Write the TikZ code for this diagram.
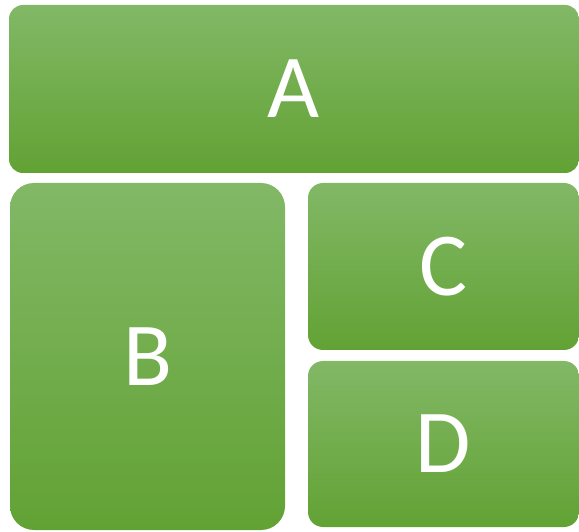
\documentclass[tikz,border=0pt]{standalone}
\usepackage{fontspec}
\setmainfont{Carlito}
\definecolor{gtop}{HTML}{82B866}
\definecolor{gmid}{HTML}{70AE45}
\definecolor{gbot}{HTML}{62A234}
\begin{document}
\begin{tikzpicture}[x=1pt,y=1pt,
  tile/.style={draw=none, top color=gtop, middle color=gmid, bottom color=gbot,
    text=white, font=\fontsize{90}{90}\selectfont, inner sep=0pt}]
\useasboundingbox (0,0) rectangle (579,531);
\node[tile, rounded corners=14pt, minimum width=570pt, minimum height=168pt] (A) at (294,442) {A};
\node[tile, rounded corners=24pt, minimum width=275pt, minimum height=347pt] (B) at (147.5,174.5) {B};
\node[tile, rounded corners=15pt, minimum width=271pt, minimum height=167pt] (C) at (443.5,264.5) {C};
\node[tile, rounded corners=15pt, minimum width=271pt, minimum height=166pt] (D) at (443.5,87) {D};
\end{tikzpicture}
\end{document}
